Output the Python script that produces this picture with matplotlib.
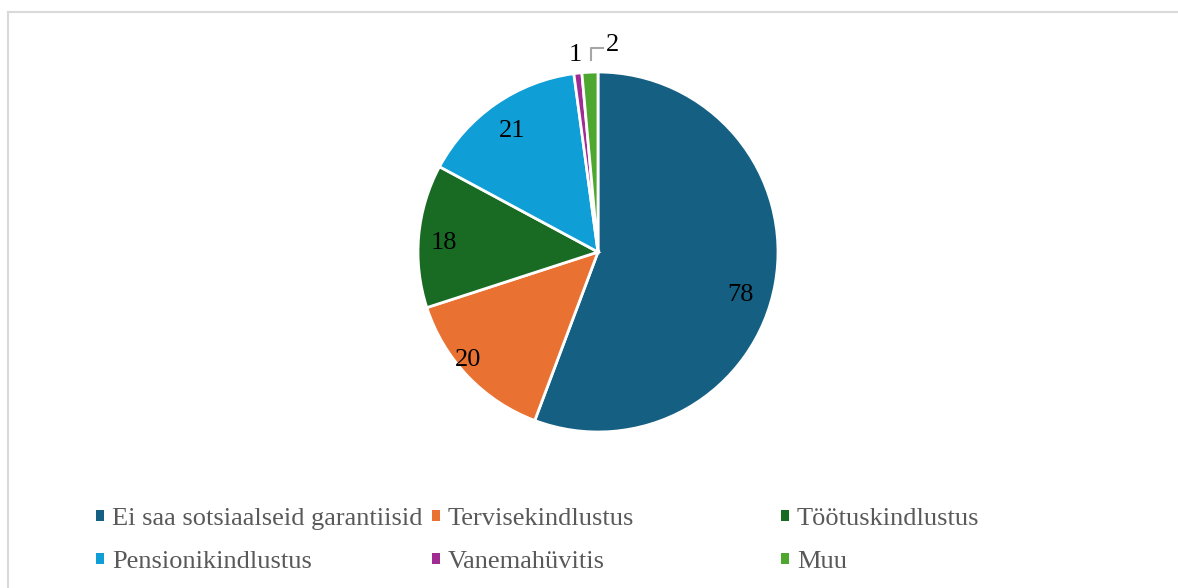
import matplotlib.pyplot as plt
from matplotlib.patches import Rectangle
import numpy as np

plt.rcParams['font.family'] = ['Liberation Serif', 'DejaVu Serif']

categories = ["Ei saa sotsiaalseid garantiisid", "Tervisekindlustus", "Töötuskindlustus",
              "Pensionikindlustus", "Vanemahüvitis", "Muu"]
values = [78, 20, 18, 21, 1, 2]
colors = ["#156082", "#E97132", "#196B24", "#0F9ED5", "#A02B93", "#4EA72E"]

W, H = 1178, 588
fig = plt.figure(figsize=(W / 100, H / 100), dpi=100)

# light frame (only top and left visible, like the cropped source)
fig.add_artist(plt.Line2D([7.5 / W, 7.5 / W], [0, 1 - 11.5 / H], transform=fig.transFigure,
                          color="#d9d9d9", lw=1.5))
fig.add_artist(plt.Line2D([7.5 / W, 1], [1 - 11.5 / H, 1 - 11.5 / H], transform=fig.transFigure,
                          color="#d9d9d9", lw=1.5))

cx, cy, r = 598, 252, 180
ax = fig.add_axes([(cx - r) / W, (H - cy - r) / H, 2 * r / W, 2 * r / H])
wedges, _ = ax.pie(values, colors=colors, startangle=90, counterclock=False, radius=1,
                   wedgeprops=dict(edgecolor="white", linewidth=2))
ax.set_xlim(-1, 1)
ax.set_ylim(-1, 1)
ax.set_aspect("equal")
ax.axis("off")

fs = 19

# labels inside the big slices (distance from centre, angle nudge in degrees)
dists = [0.82, 0.93, 0.86, 0.84]
nudge = [-5.4, -4.8, 0.6, 0]
for w, v, d, n in zip(wedges[:4], values[:4], dists, nudge):
    ang = np.deg2rad((w.theta1 + w.theta2) / 2 + n)
    ax.text(d * np.cos(ang), d * np.sin(ang) - 0.017, str(v), ha="center", va="center",
            fontsize=fs, color="black")

# small slices, labels outside
ax.text(-0.128, 1.095, str(values[4]), ha="center", va="center", fontsize=fs, clip_on=False)
ax.text(0.082, 1.15, str(values[5]), ha="center", va="center", fontsize=fs, clip_on=False)
ax.plot([-0.039, -0.039, 0.028], [1.067, 1.133, 1.133], color="#a6a6a6", lw=1.5, clip_on=False)

# legend, three columns placed like the original
handles = [Rectangle((0, 0), 1, 1, facecolor=c, edgecolor="none") for c in colors]
col_x = [96, 432, 781]
for j, x0 in enumerate(col_x):
    idx = [j, j + 3]
    leg = fig.legend([handles[i] for i in idx], [categories[i] for i in idx],
                     loc="upper left", bbox_to_anchor=(x0 / W, 1 - 508 / H),
                     frameon=False, fontsize=fs, handlelength=0.3, handleheight=0.3,
                     handletextpad=0.3, labelspacing=0.8, borderpad=0, borderaxespad=0)
    for t in leg.get_texts():
        t.set_color("#595959")

fig.savefig("out.png", dpi=100)
